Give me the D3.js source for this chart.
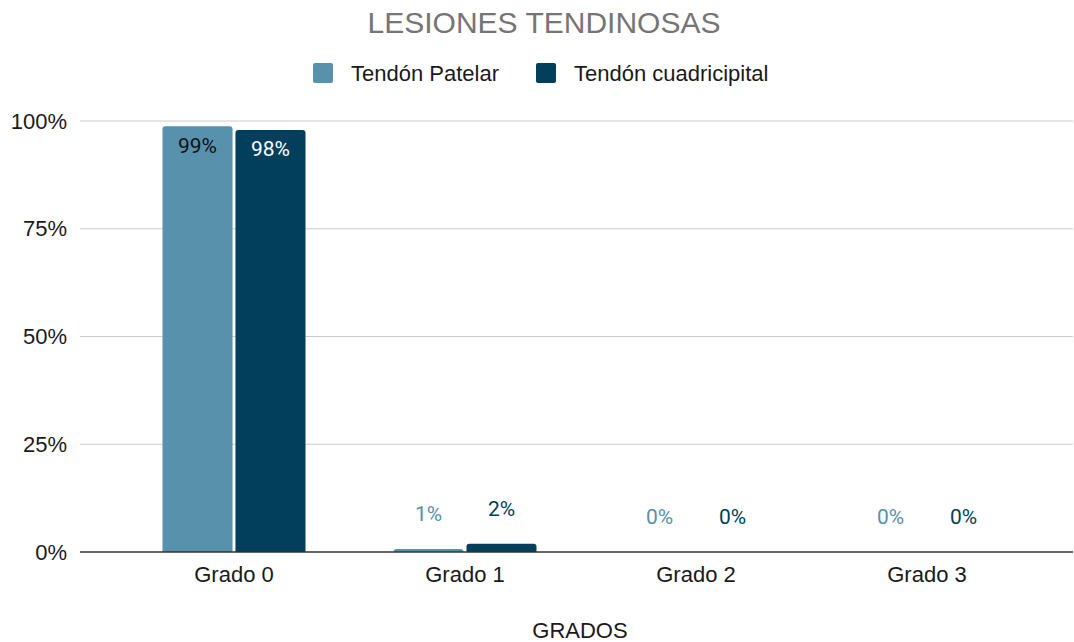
<!DOCTYPE html>
<html>
<head>
<meta charset="utf-8">
<script src="https://cdn.jsdelivr.net/npm/d3@7"></script>
<style>
  body { margin: 0; background: #fff; }
  text { font-family: "Liberation Sans", Arial, sans-serif; }
</style>
</head>
<body>
<div id="chart"></div>
<script>
var categories = ["Grado 0", "Grado 1", "Grado 2", "Grado 3"];
var seriesNames = ["Tendón Patelar", "Tendón cuadricipital"];
var patelar = [0.988, 0.007, 0, 0];
var cuadricipital = [0.979, 0.019, 0, 0];
var pctLabels = [["99%", "1%", "0%", "0%"], ["98%", "2%", "0%", "0%"]];
var yTicks = [0, 0.25, 0.5, 0.75, 1];

var colors = ["#5891ac", "#023f5c"];
var svgWidth = 1074, svgHeight = 642;

var svg = d3.select("#chart").append("svg")
  .attr("width", svgWidth)
  .attr("height", svgHeight);

var x = d3.scaleBand().domain(categories).range([118.5, 1042.5]);
var x1 = d3.scaleBand().domain([0, 1]).range([0, 143]).paddingInner(0.04);
var y = d3.scaleLinear().domain([0, 1]).range([552, 121]);

// grid
svg.append("g")
  .selectAll("line")
  .data(yTicks.slice(1))
  .enter().append("line")
  .attr("x1", 80).attr("x2", 1073)
  .attr("y1", d => y(d)).attr("y2", d => y(d))
  .attr("stroke", "#cccccc")
  .attr("stroke-width", 1);

// y labels
svg.append("g")
  .selectAll("text")
  .data(yTicks)
  .enter().append("text")
  .attr("x", 67)
  .attr("y", d => y(d))
  .attr("dy", "0.35em")
  .attr("text-anchor", "end")
  .style("font-size", "22px")
  .style("fill", "#1a1a1a")
  .text(d => d3.format(".0%")(d));

// bars
var series = [patelar, cuadricipital];
series.forEach(function(vals, s) {
  var g = svg.append("g");
  g.selectAll("path")
    .data(vals.map((v, i) => ({ v: v, c: categories[i] })))
    .enter().append("path")
    .filter(d => d.v > 0)
    .attr("d", function(d) {
      var x0 = x(d.c) + x.bandwidth() / 2 - 71.5 + x1(s);
      var w = x1.bandwidth();
      var top = y(d.v), bot = y(0);
      var r = Math.min(3, (bot - top));
      return "M" + x0 + "," + bot + "V" + (top + r) +
        "Q" + x0 + "," + top + " " + (x0 + r) + "," + top +
        "H" + (x0 + w - r) +
        "Q" + (x0 + w) + "," + top + " " + (x0 + w) + "," + (top + r) +
        "V" + bot + "Z";
    })
    .attr("fill", colors[s]);

  g.selectAll("text")
    .data(vals.map((v, i) => ({ v: v, c: categories[i], i: i })))
    .enter().append("text")
    .attr("x", d => x(d.c) + x.bandwidth() / 2 - 71.5 + x1(s) + x1.bandwidth() / 2)
    .attr("y", d => d.v > 0.5 ? y(d.v) + 19 : y(d.v) - 35)
    .attr("dy", "0.35em")
    .attr("text-anchor", "middle")
    .style("font-family", "Roboto, sans-serif")
    .style("font-size", "21px")
    .style("fill", d => d.v > 0.5 ? (s === 0 ? "#111" : "#fff") : colors[s])
    .text(d => pctLabels[s][d.i]);
});

// baseline
svg.append("line")
  .attr("x1", 80).attr("x2", 1073)
  .attr("y1", y(0)).attr("y2", y(0))
  .attr("stroke", "#333")
  .attr("stroke-width", 1.5);

// x labels
var xAxis = d3.axisBottom(x).tickSize(0).tickPadding(14);
var xg = svg.append("g")
  .attr("transform", "translate(0," + y(0) + ")")
  .call(xAxis);
xg.select(".domain").remove();
xg.selectAll("text")
  .style("font-family", "'Liberation Sans', Arial, sans-serif")
  .style("font-size", "22px")
  .style("fill", "#1a1a1a");

// title
svg.append("text")
  .attr("x", 544).attr("y", 33)
  .attr("text-anchor", "middle")
  .style("font-size", "30px")
  .style("fill", "#757575")
  .text("LESIONES TENDINOSAS");

// legend
var legendX = [313, 536];
seriesNames.forEach(function(n, i) {
  svg.append("rect")
    .attr("x", legendX[i]).attr("y", 63)
    .attr("width", 20).attr("height", 20)
    .attr("rx", 2)
    .attr("fill", colors[i]);
  svg.append("text")
    .attr("x", legendX[i] + 38).attr("y", 73)
    .attr("dy", "0.35em")
    .style("font-size", "22px")
    .style("fill", "#1a1a1a")
    .text(n);
});

// axis title
svg.append("text")
  .attr("x", 580).attr("y", 638)
  .attr("text-anchor", "middle")
  .style("font-size", "22px")
  .style("fill", "#1a1a1a")
  .text("GRADOS");
</script>
</body>
</html>
